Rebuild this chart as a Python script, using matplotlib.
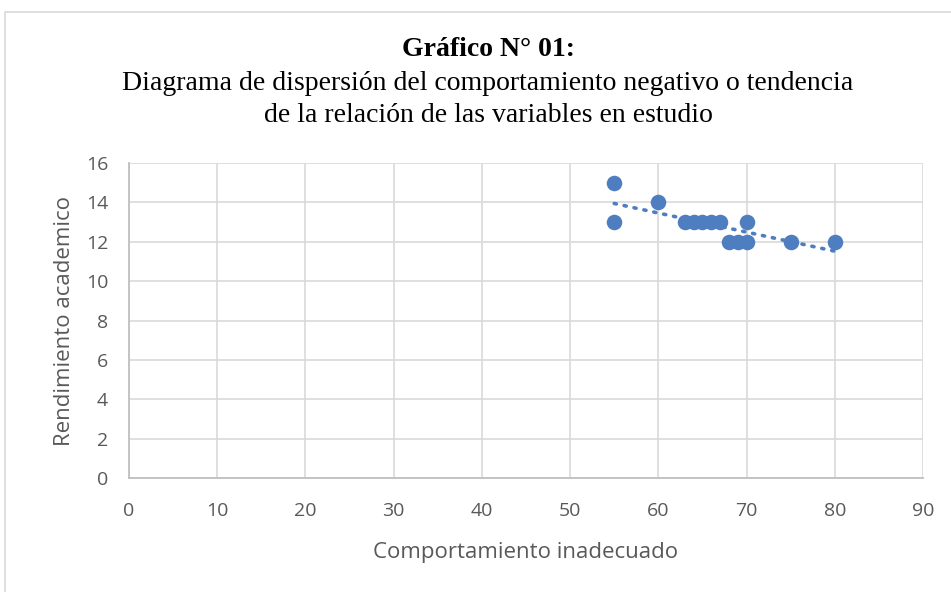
import numpy as np
import matplotlib
matplotlib.use("Agg")
import matplotlib.pyplot as plt
from matplotlib.patches import Rectangle

x_vals = [55, 55, 60, 63, 64, 65, 66, 67, 68, 69, 70, 70, 75, 80]
y_vals = [15, 13, 14, 13, 13, 13, 13, 13, 12, 12, 12, 13, 12, 12]
x_ticks = [0, 10, 20, 30, 40, 50, 60, 70, 80, 90]
y_ticks = [0, 2, 4, 6, 8, 10, 12, 14, 16]

W, H = 951, 592
fig = plt.figure(figsize=(W / 100, H / 100), dpi=100)
fig.patch.set_facecolor("white")

# outer chart frame
fig.patches.append(Rectangle((5 / W, -0.1), 1.2, 1 - 12 / H + 0.1, transform=fig.transFigure,
                             fill=False, edgecolor="#D9D9D9", linewidth=1.2))

ax = fig.add_axes([129 / W, 1 - 478 / H, (923 - 129) / W, (478 - 163) / H])
ax.set_xlim(0, 90)
ax.set_ylim(0, 16)
ax.set_xticks(x_ticks)
ax.set_yticks(y_ticks)
ax.grid(True, color="#D9D9D9", linewidth=1.2)
ax.set_axisbelow(True)
for s in ["top", "right"]:
    ax.spines[s].set_visible(False)
for s in ["bottom", "left"]:
    ax.spines[s].set_color("#BFBFBF")
    ax.spines[s].set_linewidth(1.3)
ax.tick_params(axis="y", length=0, labelsize=14, colors="#595959", pad=15)
ax.tick_params(axis="x", length=0, labelsize=14, colors="#595959", pad=17)
for lbl in ax.get_xticklabels() + ax.get_yticklabels():
    lbl.set_family("Open Sans")

col = "#4E7EBF"
ax.scatter(x_vals, y_vals, s=125, color=col, zorder=3, linewidths=0)
m, b = np.polyfit(x_vals, y_vals, 1)
xs = np.array([min(x_vals), max(x_vals)])
ax.plot(xs, m * xs + b, linestyle=(0, (0.6, 2.2)), color=col, linewidth=2.6,
        dash_capstyle="round", zorder=2)

ax.set_xlabel("Comportamiento inadecuado", fontsize=16, color="#595959",
              family="Open Sans", labelpad=16)
ax.set_ylabel("Rendimiento academico", fontsize=16, color="#595959",
              family="Open Sans", labelpad=8)

cx = 488 / W
fig.text(cx, 1 - 49 / H, "Gráfico N° 01:", ha="center", va="center",
         fontsize=20, fontweight="bold", family="Liberation Serif")
fig.text(cx, 1 - 84 / H, "Diagrama de dispersión del comportamiento negativo o tendencia",
         ha="center", va="center", fontsize=20, family="Liberation Serif")
fig.text(cx, 1 - 116 / H, "de la relación de las variables en estudio",
         ha="center", va="center", fontsize=20, family="Liberation Serif")

fig.savefig("out.png", dpi=100)
